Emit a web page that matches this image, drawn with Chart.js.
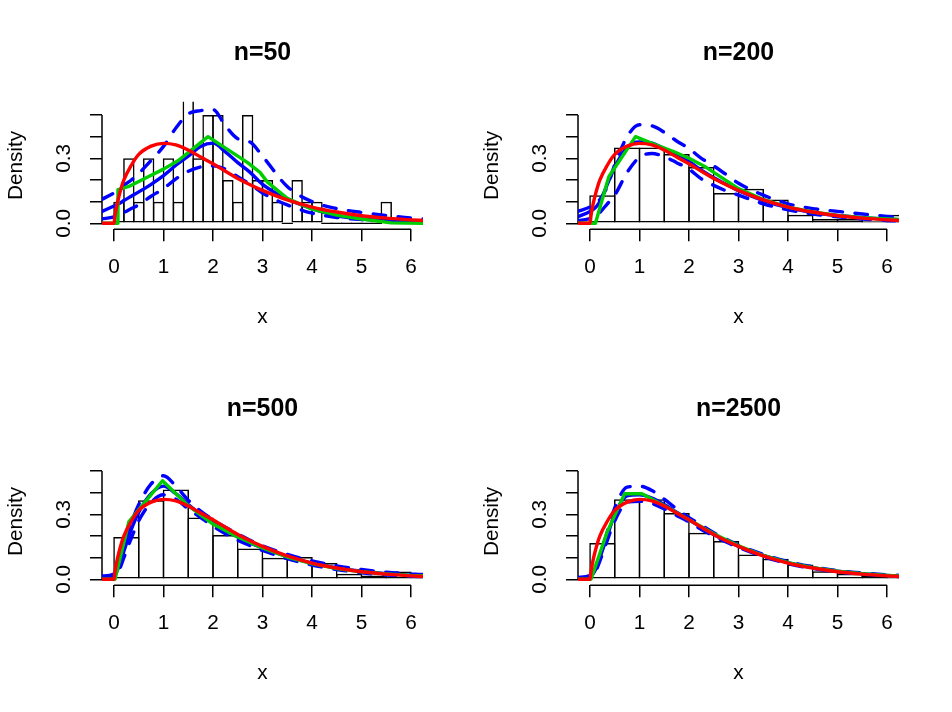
<!DOCTYPE html>
<html lang="en">
<head>
<meta charset="utf-8">
<title>Density estimates by sample size</title>
<script src="https://cdn.jsdelivr.net/npm/chart.js@4.4.1/dist/chart.umd.min.js"></script>
<style>
  body { margin: 0; background: #fff; }
  #grid { position: relative; width: 952px; height: 712px; }
  #grid canvas { position: absolute; }
</style>
</head>
<body>
<div id="grid">
  <canvas id="p50" width="476" height="356" style="left:0;top:0"></canvas>
  <canvas id="p200" width="476" height="356" style="left:476px;top:0"></canvas>
  <canvas id="p500" width="476" height="356" style="left:0;top:356px"></canvas>
  <canvas id="p2500" width="476" height="356" style="left:476px;top:356px"></canvas>
</div>
<script>
// axes
const xTicks = [0, 1, 2, 3, 4, 5, 6];
const xTickLabels = ['0', '1', '2', '3', '4', '5', '6'];
const yTicks = [0, 0.1, 0.2, 0.3, 0.4, 0.5];
const yTickLabels = ['0.0', '', '', '0.3', '', ''];

// histogram bins (mid points) and densities
const mids50 = [0.1, 0.3, 0.5, 0.7, 0.9, 1.1, 1.3, 1.5, 1.7, 1.9, 2.1, 2.3, 2.5, 2.7, 2.9, 3.1, 3.3, 3.5, 3.7, 3.9, 4.1, 4.3, 4.5, 4.7, 4.9, 5.1, 5.3, 5.5];
const hist50 = [0.1, 0.3, 0.1, 0.3, 0.1, 0.3, 0.1, 0.6, 0.3, 0.5, 0.5, 0.2, 0.1, 0.5, 0.2, 0.2, 0.1, 0, 0.2, 0.1, 0.1, 0, 0, 0, 0, 0, 0, 0.1];
const midsHalf = [0.25, 0.75, 1.25, 1.75, 2.25, 2.75, 3.25, 3.75, 4.25, 4.75, 5.25, 5.75, 6.25];
const hist200 = [0.13, 0.35, 0.35, 0.32, 0.26, 0.14, 0.16, 0.11, 0.04, 0.02, 0.02, 0.01, 0.04];
const hist500 = [0.195, 0.365, 0.415, 0.285, 0.205, 0.142, 0.1, 0.103, 0.075, 0.026, 0.018, 0.036, 0.01];
const hist2500 = [0.168, 0.37, 0.37, 0.306, 0.215, 0.177, 0.114, 0.095, 0.068, 0.037, 0.026, 0.015, 0.01];

// true density (red), same in every panel
const trueX = [-0.25, 0, 0.02, 0.05, 0.1, 0.2, 0.35, 0.5, 0.75, 1, 1.25, 1.5, 1.75, 2, 2.25, 2.5, 2.75, 3, 3.5, 4, 4.5, 5, 5.5, 6, 6.25];
const trueY = [0, 0, 0.035, 0.075, 0.125, 0.2, 0.268, 0.318, 0.356, 0.369, 0.362, 0.338, 0.306, 0.275, 0.24, 0.207, 0.178, 0.152, 0.108, 0.075, 0.052, 0.035, 0.024, 0.016, 0.013];

// smooth estimates, read on a common x grid
const gridX = [-0.25, 0, 0.1, 0.2, 0.35, 0.5, 0.75, 1, 1.25, 1.5, 1.75, 2, 2.25, 2.5, 2.75, 3, 3.5, 4, 4.5, 5, 5.5, 6, 6.25];

const blue50 = [0.054, 0.08, 0.09, 0.105, 0.125, 0.145, 0.18, 0.22, 0.268, 0.31, 0.355, 0.37, 0.33, 0.28, 0.235, 0.18, 0.112, 0.068, 0.035, 0.02, 0.013, 0.009, 0.008];
const upper50 = [0.11, 0.14, 0.155, 0.175, 0.2, 0.23, 0.29, 0.355, 0.44, 0.505, 0.52, 0.525, 0.45, 0.39, 0.375, 0.31, 0.17, 0.1, 0.068, 0.05, 0.036, 0.024, 0.02];
const lower50 = [0.02, 0.03, 0.04, 0.05, 0.068, 0.085, 0.125, 0.16, 0.205, 0.24, 0.26, 0.265, 0.25, 0.215, 0.18, 0.14, 0.085, 0.047, 0.027, 0.017, 0.011, 0.006, 0.004];

const blue200 = [0.03, 0.055, 0.07, 0.1, 0.18, 0.26, 0.35, 0.375, 0.37, 0.345, 0.315, 0.285, 0.245, 0.21, 0.18, 0.15, 0.105, 0.072, 0.05, 0.036, 0.026, 0.019, 0.017];
const upper200 = [0.055, 0.075, 0.09, 0.11, 0.17, 0.27, 0.4, 0.455, 0.45, 0.42, 0.38, 0.345, 0.3, 0.265, 0.225, 0.185, 0.13, 0.09, 0.068, 0.055, 0.043, 0.032, 0.028];
const lower200 = [0.012, 0.022, 0.03, 0.05, 0.09, 0.13, 0.235, 0.305, 0.322, 0.308, 0.28, 0.25, 0.205, 0.175, 0.15, 0.13, 0.09, 0.062, 0.043, 0.03, 0.02, 0.013, 0.011];

const blue500 = [0.008, 0.015, 0.06, 0.13, 0.23, 0.31, 0.395, 0.43, 0.395, 0.345, 0.3, 0.26, 0.225, 0.195, 0.168, 0.145, 0.105, 0.075, 0.053, 0.037, 0.026, 0.019, 0.016];
const upper500 = [0.015, 0.025, 0.07, 0.15, 0.26, 0.345, 0.44, 0.478, 0.43, 0.365, 0.315, 0.275, 0.24, 0.21, 0.18, 0.155, 0.115, 0.085, 0.062, 0.045, 0.033, 0.025, 0.022];
const lower500 = [0.003, 0.008, 0.04, 0.1, 0.19, 0.27, 0.355, 0.39, 0.37, 0.325, 0.285, 0.245, 0.21, 0.18, 0.155, 0.133, 0.095, 0.066, 0.045, 0.03, 0.02, 0.014, 0.012];

const blue2500 = [0.004, 0.012, 0.04, 0.1, 0.2, 0.3, 0.385, 0.39, 0.375, 0.345, 0.31, 0.275, 0.24, 0.207, 0.178, 0.152, 0.11, 0.077, 0.054, 0.037, 0.026, 0.018, 0.015];
const upper2500 = [0.008, 0.018, 0.05, 0.11, 0.22, 0.33, 0.425, 0.43, 0.41, 0.37, 0.325, 0.285, 0.25, 0.215, 0.185, 0.158, 0.115, 0.082, 0.058, 0.04, 0.029, 0.021, 0.018];
const lower2500 = [0.001, 0.006, 0.03, 0.085, 0.18, 0.27, 0.355, 0.36, 0.35, 0.325, 0.295, 0.265, 0.23, 0.2, 0.172, 0.147, 0.105, 0.072, 0.05, 0.034, 0.024, 0.016, 0.013];

// piecewise linear estimates (own knots)
const green50X = [-0.25, 0.07, 0.08, 0.3, 0.65, 1.0, 1.3, 1.6, 1.9, 2.3, 2.7, 2.95, 3.1, 3.5, 4.0, 4.5, 5.0, 5.6, 6.25];
const green50Y = [0, 0, 0.155, 0.17, 0.21, 0.25, 0.29, 0.345, 0.4, 0.34, 0.28, 0.235, 0.19, 0.115, 0.065, 0.038, 0.02, 0.002, 0];
const green200X = [-0.25, 0.11, 0.38, 0.92, 1.3, 1.7, 2.0, 2.3, 2.6, 3.0, 3.5, 4.0, 4.5, 5.0, 5.5, 6.0, 6.25];
const green200Y = [0, 0, 0.215, 0.4, 0.365, 0.33, 0.3, 0.265, 0.22, 0.16, 0.11, 0.075, 0.052, 0.036, 0.026, 0.02, 0.018];
const green500X = [-0.25, 0.02, 0.3, 0.98, 1.5, 2.0, 2.5, 3.0, 3.5, 4.0, 4.5, 5.0, 5.5, 6.0, 6.25];
const green500Y = [0, 0, 0.265, 0.455, 0.34, 0.255, 0.195, 0.145, 0.103, 0.072, 0.05, 0.035, 0.025, 0.018, 0.016];
const green2500X = [-0.25, 0.02, 0.35, 0.7, 1.05, 1.5, 2.0, 2.5, 3.0, 3.5, 4.0, 4.5, 5.0, 5.5, 6.0, 6.25];
const green2500Y = [0, 0, 0.22, 0.395, 0.395, 0.34, 0.275, 0.21, 0.155, 0.11, 0.077, 0.054, 0.037, 0.026, 0.018, 0.015];

const panels = [
  { id: 'p50', title: 'n=50', mids: mids50, dens: hist50, gx: green50X, gy: green50Y, blue: blue50, upper: upper50, lower: lower50 },
  { id: 'p200', title: 'n=200', mids: midsHalf, dens: hist200, gx: green200X, gy: green200Y, blue: blue200, upper: upper200, lower: lower200 },
  { id: 'p500', title: 'n=500', mids: midsHalf, dens: hist500, gx: green500X, gy: green500Y, blue: blue500, upper: upper500, lower: lower500 },
  { id: 'p2500', title: 'n=2500', mids: midsHalf, dens: hist2500, gx: green2500X, gy: green2500Y, blue: blue2500, upper: upper2500, lower: lower2500 }
];

const FONT = '"Liberation Sans", Arial, Helvetica, sans-serif';
const xMin = -0.2424, xMax = 6.2424;
const yMin = -0.0277, yMax = 0.5614;
const plotW = 321;
const edgeW = 1.5;
const lineW = 3.4;

Chart.defaults.font.family = FONT;
Chart.defaults.color = '#000';

// R style axis lines, only from first to last tick
const rAxes = {
  id: 'rAxes',
  beforeDatasetsDraw(chart) {
    const { ctx, chartArea, scales: { x, y } } = chart;
    ctx.save();
    ctx.strokeStyle = '#000';
    ctx.lineWidth = edgeW;
    ctx.beginPath();
    ctx.moveTo(x.getPixelForValue(xTicks[0]), chartArea.bottom);
    ctx.lineTo(x.getPixelForValue(xTicks[xTicks.length - 1]), chartArea.bottom);
    ctx.moveTo(chartArea.left, y.getPixelForValue(yTicks[0]));
    ctx.lineTo(chartArea.left, y.getPixelForValue(yTicks[yTicks.length - 1]));
    ctx.stroke();
    ctx.restore();
  }
};

function pts(xs, ys) {
  return xs.map((x, i) => ({ x: x, y: ys[i] }));
}

function curve(data, color, dashed, order, smooth) {
  return {
    type: 'line',
    data: data,
    borderColor: color,
    borderWidth: lineW,
    borderDash: dashed ? [12.5, 12.5] : [],
    borderCapStyle: 'round',
    borderJoinStyle: 'round',
    pointRadius: 0,
    fill: false,
    tension: 0,
    cubicInterpolationMode: smooth ? 'monotone' : 'default',
    order: order
  };
}

panels.forEach(p => {
  const binW = p.mids[1] - p.mids[0];
  const pxPerUnit = plotW / (xMax - xMin);
  new Chart(document.getElementById(p.id), {
    type: 'bar',
    data: {
      datasets: [
        {
          type: 'bar',
          data: pts(p.mids, p.dens),
          backgroundColor: 'rgba(0,0,0,0)',
          borderColor: '#000',
          borderWidth: edgeW,
          borderSkipped: false,
          minBarLength: edgeW,
          categoryPercentage: 1,
          barPercentage: 1 + edgeW / (binW * pxPerUnit),
          order: 9
        },
        curve(pts(gridX, p.upper), '#0000ff', true, 5, true),
        curve(pts(gridX, p.lower), '#0000ff', true, 5, true),
        curve(pts(gridX, p.blue), '#0000ff', false, 4, true),
        curve(pts(p.gx, p.gy), '#00cd00', false, 3, false),
        curve(pts(trueX, trueY), '#ff0000', false, 1, true)
      ]
    },
    options: {
      responsive: false,
      animation: false,
      events: [],
      layout: { padding: { left: 0, right: 53, top: 0, bottom: 0 } },
      plugins: {
        legend: { display: false },
        tooltip: { enabled: false },
        title: {
          display: true,
          text: p.title,
          fullSize: false,
          color: '#000',
          font: { family: FONT, size: 24.9, weight: 'bold' },
          padding: { top: 38.6, bottom: 33.2 }
        }
      },
      scales: {
        x: {
          type: 'linear',
          min: xMin,
          max: xMax,
          offset: false,
          afterBuildTicks: s => { s.ticks = xTicks.map(v => ({ value: v })); },
          afterFit: s => { s.height = 126.7; },
          border: { display: false },
          grid: { offset: false, drawOnChartArea: false, drawTicks: true, tickLength: 12, color: '#000', lineWidth: edgeW },
          ticks: {
            autoSkip: false, maxRotation: 0, minRotation: 0, padding: 13.2,
            font: { size: 20.75 }, color: '#000',
            callback: (v, i) => xTickLabels[i]
          },
          title: { display: true, text: 'x', color: '#000', font: { size: 20.75 }, padding: { top: 0, bottom: 26.7 } }
        },
        y: {
          type: 'linear',
          min: yMin,
          max: yMax,
          afterBuildTicks: s => { s.ticks = yTicks.map(v => ({ value: v })); },
          afterFit: s => { s.width = 102; },
          border: { display: false },
          grid: { drawOnChartArea: false, drawTicks: true, tickLength: 12, color: '#000', lineWidth: edgeW },
          ticks: {
            autoSkip: false, minRotation: 90, maxRotation: 90, crossAlign: 'center', padding: 11.6,
            font: { size: 20.75 }, color: '#000',
            callback: (v, i) => yTickLabels[i]
          },
          title: { display: true, text: 'Density', color: '#000', font: { size: 20.75 }, padding: { top: 3.5, bottom: 0 } }
        }
      }
    },
    plugins: [rAxes]
  });
});
</script>
</body>
</html>
